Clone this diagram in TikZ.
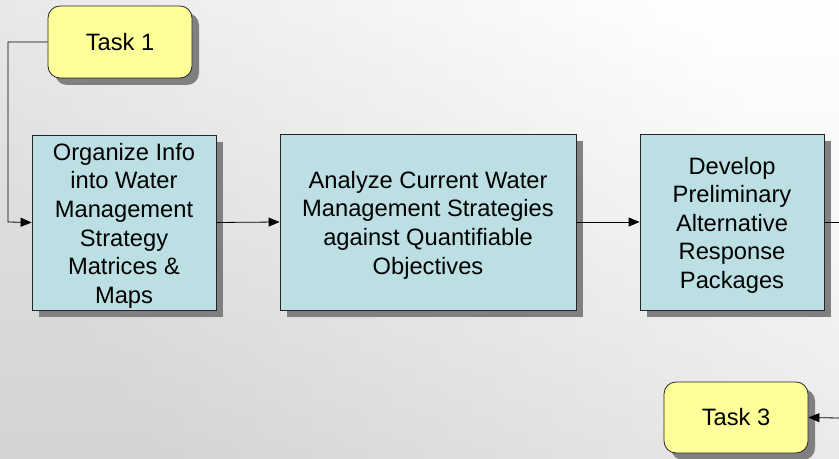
\documentclass[tikz,border=0pt]{standalone}
\usepackage{fontspec}
\setmainfont{Liberation Sans}
\usetikzlibrary{arrows.meta,shadows}
\definecolor{boxfill}{RGB}{187,223,227}
\definecolor{taskfill}{RGB}{255,255,153}
\definecolor{shadowgray}{RGB}{128,128,128}
\definecolor{bgdark}{RGB}{212,212,212}
\newcommand\tgap{\rule{0pt}{23.5bp}}
\begin{document}
\begin{tikzpicture}[x=1bp,y=-1bp,
  proc/.style={draw=black!85,line width=0.8bp,fill=boxfill,align=center,inner sep=0pt,
    font=\fontsize{23.7bp}{28.6bp}\selectfont,
    drop shadow={shadow xshift=7bp,shadow yshift=-7bp,fill=shadowgray,opacity=1}},
  task/.style={draw=black!85,line width=0.8bp,fill=taskfill,rounded corners=12bp,inner sep=0pt,
    font=\fontsize{23.7bp}{28.6bp}\selectfont,
    drop shadow={shadow xshift=7bp,shadow yshift=-7bp,fill=shadowgray,opacity=1}},
  conn/.style={line width=0.8bp,-{Triangle[length=11bp,width=9bp]}}]
\useasboundingbox (0,0) rectangle (839,459);
\shade[left color=white,right color=bgdark,shading angle=-60] (0,0) rectangle (839,459);
\shade[top color=white!0,bottom color=bgdark,opacity=0.4] (0,0) rectangle (839,459);
\node[task,minimum width=144bp,minimum height=72bp] (t1) at (120,42) {Task 1};
\node[task,minimum width=144bp,minimum height=71bp] (t3) at (736,417.5) {Task 3};
\node[proc,minimum width=184bp,minimum height=175bp] (b1) at (124,222.5)
  {\tgap Organize Info\\into Water\\Management\\Strategy\\Matrices \&\\Maps};
\node[proc,minimum width=296bp,minimum height=176bp] (b2) at (428,222)
  {\tgap Analyze Current Water\\Management Strategies\\against Quantifiable\\Objectives};
\node[proc,minimum width=184bp,minimum height=176bp] (b3) at (732,222)
  {\tgap Develop\\Preliminary\\Alternative\\Response\\Packages};
\coordinate (c1) at (8,222);
\coordinate (c3) at (839,222);
\coordinate (c4) at (839,418);
\draw[conn] (t1.west) -| (c1) -- (b1.west);
\draw[conn] (b1.east) -- (b2.west);
\draw[conn] (b2.east) -- (b3.west);
\draw[line width=0.8bp] (b3.east) -- (c3);
\draw[conn] (c4) -- (t3.east);
\end{tikzpicture}
\end{document}
